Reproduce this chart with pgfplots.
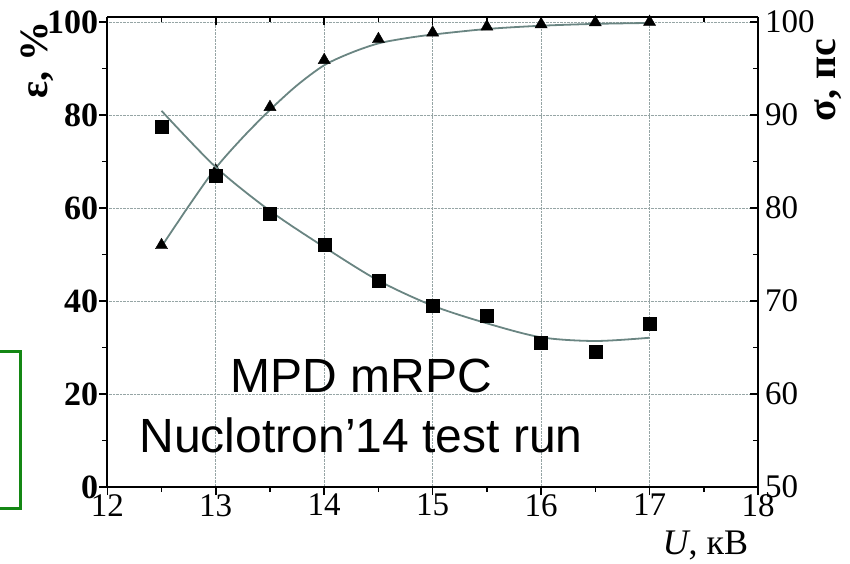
\documentclass[border=0pt]{standalone}
\usepackage{pgfplots}
\pgfplotsset{compat=1.18}
\usepackage{fontspec}
\setmainfont{Liberation Serif}
\newfontfamily\arial{Liberation Sans}
\definecolor{curvecol}{RGB}{106,133,130}
\definecolor{gridcol}{RGB}{150,165,165}
\definecolor{boxgreen}{RGB}{20,135,20}
\begin{document}
\begin{tikzpicture}
\useasboundingbox (-107.3pt,-76pt) rectangle (742.7pt,487pt);
\draw[boxgreen, line width=3pt] (-130pt,136pt) -- (-86.3pt,136pt) -- (-86.3pt,-21pt) -- (-130pt,-21pt);
\pgfplotsset{
  common/.style={
    at={(0pt,0pt)}, anchor=south west,
    width=650.7pt, height=470pt, scale only axis,
    xmin=12, xmax=18,
    xtick={12,13,...,18}, minor x tick num=1,
    minor y tick num=1,
    axis line style={line width=1.8pt},
    every tick/.style={line width=1.5pt, black},
    major tick length=8pt, minor tick length=5pt,
    /pgf/number format/assume math mode=true,
    tick label style={font=\fontsize{33}{36}\selectfont},
  }
}
\begin{axis}[common,
  ymin=0, ymax=101.08,
  axis y line*=left, axis x line*=bottom,
  tick align=outside,
  ytick={0,20,...,100},
  yticklabel style={font=\fontsize{34}{36}\selectfont\bfseries, inner sep=1pt},
  xticklabel style={inner sep=1pt, yshift=2pt},
  grid=major,
  major grid style={densely dotted, line width=0.9pt, gridcol},
  clip=false,
]
\addplot[curvecol, line width=1.8pt, smooth, no marks] coordinates {
 (12.5,51.7) (12.75,60.4) (13,68.6) (13.25,75.2) (13.5,81.1) (13.75,86.4)
 (14,90.7) (14.25,93.4) (14.5,95.4) (14.75,96.5) (15,97.3) (15.5,98.5)
 (16,99.2) (16.5,99.6) (17,99.8)};
\addplot[only marks, mark=triangle*, mark size=7pt, black] coordinates {
 (12.5,52.0) (13,68.0) (13.5,81.7) (14,91.8) (14.5,96.3) (15,97.7)
 (15.5,99.0) (16,99.5) (16.5,99.9) (17,100)};
\node[font=\arial\fontsize{48}{60}\selectfont, align=center] at (axis cs:14.34,17.4)
  {MPD mRPC\\Nuclotron’14 test run};
\node[xshift=-70pt, rotate=90, font=\fontsize{40}{40}\selectfont\bfseries] at (rel axis cs:0,0.908) {ε, \%};
\node[xshift=70pt, rotate=90, font=\fontsize{40}{40}\selectfont\bfseries] at (rel axis cs:1,0.866) {σ, пс};
\node[yshift=-58pt, font=\fontsize{36}{40}\selectfont] at (rel axis cs:0.919,0) {\textit{U}, кВ};
\end{axis}
\begin{axis}[common,
  ymin=50, ymax=100.54,
  axis y line*=right, axis x line*=top,
  tick align=inside,
  xticklabels={},
  ytick={50,60,...,100},
  yticklabel style={inner sep=1pt, xshift=6pt},
]
\addplot[curvecol, line width=1.8pt, smooth, no marks] coordinates {
 (12.5,90.45) (13,84.4) (13.5,79.7) (14,75.8) (14.5,72.2) (15,69.5)
 (15.5,67.6) (16,66.1) (16.5,65.7) (17,66.05)};
\addplot[only marks, mark=square*, mark size=6.5pt, black] coordinates {
 (12.5,88.74) (13,83.47) (13.5,79.43) (14,76.1) (14.5,72.15) (15,69.46)
 (15.5,68.4) (16,65.5) (16.5,64.5) (17,67.6)};
\end{axis}
\end{tikzpicture}
\end{document}
